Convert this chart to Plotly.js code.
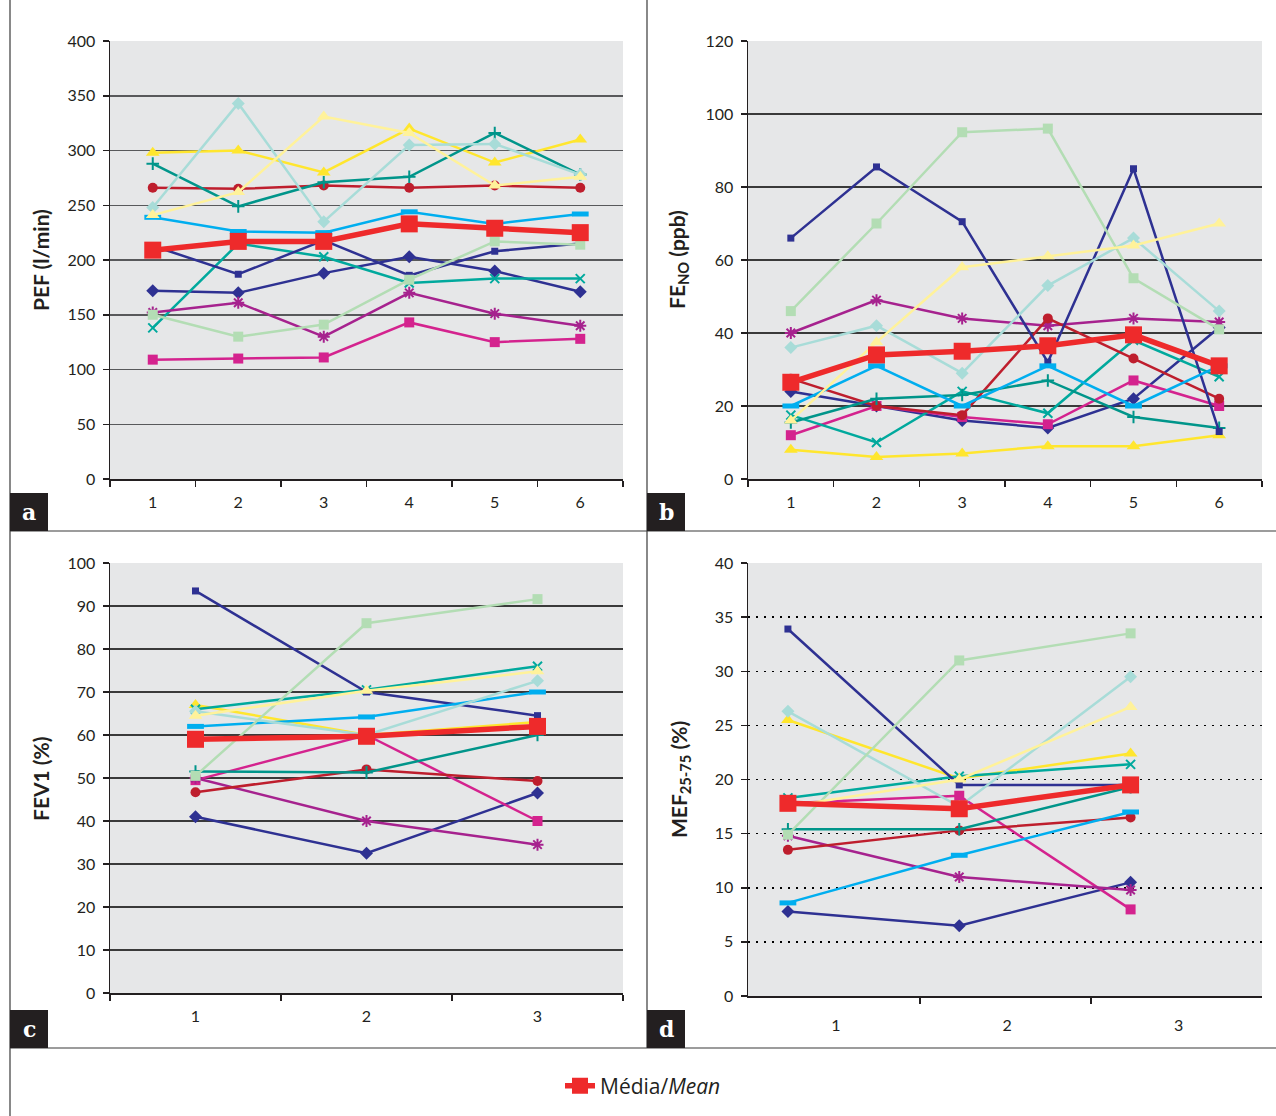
<!DOCTYPE html>
<html><head><meta charset="utf-8">
<script src="https://cdn.plot.ly/plotly-3.0.1.min.js"></script>
<style>html,body{margin:0;padding:0;background:#fff}</style>
</head><body>
<div id="chart" style="width:1276px;height:1116px"></div>
<script>
// ---------- DATA ----------
const catsSix = ['1','2','3','4','5','6'];
const catsThree = ['1','2','3'];
const seriesNames = ['P1','P2','P3','P4','P5','P6','P7','P8','P9','P10','P11','P12'];
const meanName = 'Média/<i>Mean</i>';

// a: PEF (l/min) — one row per series, same order as seriesNames
const pefValues = [
  [172, 170, 188, 203, 190, 171],
  [109, 110, 111, 143, 125, 128],
  [298, 300, 280, 320, 289, 310],
  [138, 215, 203, 179, 183, 183],
  [152, 161, 130, 170, 151, 140],
  [266, 265, 268, 266, 268, 266],
  [288, 249, 271, 276, 316, 278],
  [213, 187, 218, 186, 208, 215],
  [239, 226, 225, 244, 233, 242],
  [248, 343, 235, 305, 306, 278],
  [150, 130, 141, 182, 217, 214],
  [241, 262, 331, 316, 268, 276]
];
const pefMean = [209, 217, 217, 233, 229, 225];

// b: FENO (ppb)
const fenoValues = [
  [24, 20, 16, 14, 22, 41.5],
  [12, 20, 17, 15, 27, 20],
  [8, 6, 7, 9, 9, 12],
  [17.5, 10, 24, 18, 38, 28],
  [40, 49, 44, 42, 44, 43],
  [27.5, 20, 17.5, 44, 33, 22],
  [15.5, 22, 23, 27, 17, 14],
  [66, 85.5, 70.5, 32, 85, 13],
  [20, 31, 20, 31, 20, 31],
  [36, 42, 29, 53, 66, 46],
  [46, 70, 95, 96, 55, 41],
  [16, 37.5, 58, 61, 64, 70]
];
const fenoMean = [26.5, 34, 35, 36.5, 39.5, 31];

// c: FEV1 (%)
const fevValues = [
  [41, 32.5, 46.5],
  [49.5, 60, 40],
  [67, 60, 63],
  [66, 70.5, 76],
  [50, 40, 34.5],
  [46.7, 52, 49.3],
  [51.5, 51.3, 60],
  [93.5, 70, 64.5],
  [62, 64.2, 70],
  [65.5, 60, 72.6],
  [50.5, 86, 91.6],
  [64.5, 70.3, 74.8]
];
const fevMean = [59, 59.7, 62];

// d: MEF25-75 (%)
const mefValues = [
  [7.8, 6.5, 10.5],
  [17.8, 18.5, 8],
  [25.5, 20.1, 22.4],
  [18.3, 20.3, 21.4],
  [14.8, 11, 9.8],
  [13.5, 15.3, 16.5],
  [15.4, 15.4, 19.3],
  [33.9, 19.5, 19.5],
  [8.6, 13, 17],
  [26.3, 17.5, 29.5],
  [14.9, 31, 33.5],
  [17.5, 20, 26.7]
];
const mefMean = [17.8, 17.3, 19.5];
const mefX = [1, 2, 3];

// ---------- STYLES ----------
const colors  = ['#2E3192','#D4238E','#FFE62E','#00A99D','#A6228E','#BE1E2D','#00958A','#2E3192','#00AEEF','#A8DCD8','#B3DDB4','#FFF29A'];
const symbols = ['diamond','square','triangle-up','x-thin-open','asterisk-open','circle','cross-thin-open','square','line-ew-open','diamond','square','triangle-up'];
const msizes  = [10, 10, 12, 9, 10, 10, 9, 7, 12, 10, 10, 12];
const mlines  = [0, 0, 0, 2, 2, 0, 2, 0, 5, 0, 0, 0];
const meanColor = '#EE2A2B';

const W = 1276, H = 1116;
const px = x => x / W;
const py = y => 1 - y / H;

const traces = [];
function addPanel(values, mean, cats, xa, ya, legend) {
  values.forEach((vals, i) => {
    traces.push({
      type: 'scatter', mode: 'lines+markers', x: cats, y: vals,
      xaxis: xa, yaxis: ya, name: seriesNames[i], showlegend: false,
      line: {color: colors[i], width: 2.5},
      marker: {symbol: symbols[i], size: msizes[i], color: colors[i],
               line: {color: colors[i], width: mlines[i]}},
      cliponaxis: false
    });
  });
  traces.push({
    type: 'scatter', mode: 'lines+markers', x: cats, y: mean,
    xaxis: xa, yaxis: ya, name: meanName, showlegend: legend, legendgroup: 'mean',
    line: {color: meanColor, width: 5.5},
    marker: {symbol: 'square', size: 17, color: meanColor, line: {width: 0}},
    cliponaxis: false
  });
}
addPanel(pefValues, pefMean, catsSix, 'x', 'y', true);
addPanel(fenoValues, fenoMean, catsSix, 'x2', 'y2', false);
addPanel(fevValues, fevMean, catsThree, 'x3', 'y3', false);
addPanel(mefValues, mefMean, mefX, 'x4', 'y4', false);

const dark = '#231F20';
const tickFont = {family: 'Lato, "Open Sans", sans-serif', size: 16, color: dark};
const baseAx = {showline: true, linecolor: dark, linewidth: 1.5, ticks: 'outside', ticklen: 6,
  tickcolor: dark, tickwidth: 1.5, tickfont: tickFont, zeroline: false, fixedrange: true};
const catX = (dom, anchor, n) => Object.assign({}, baseAx, {domain: dom, anchor: anchor, type: 'category',
  range: [-0.5, n - 0.5], tickson: 'boundaries', showgrid: false, ticklabelstandoff: 8});
const valY = (dom, anchor, range, dtick, grid) => Object.assign({}, baseAx, {domain: dom, anchor: anchor,
  range: range, dtick: dtick, showgrid: true, gridcolor: grid.color, gridwidth: grid.width,
  griddash: grid.dash || 'solid', ticklabelstandoff: 4});

const topY = [py(479), py(41)];
const botYc = [py(993), py(563)];
const botYd = [py(996), py(563)];
const leftX = [px(110), px(623)];
const rightX = [px(748), px(1262)];

const layout = {
  width: W, height: H, margin: {l: 0, r: 0, t: 0, b: 0},
  paper_bgcolor: '#ffffff', plot_bgcolor: '#E6E7E8',
  font: {family: 'Lato, "Open Sans", sans-serif', color: dark},
  xaxis: catX(leftX, 'y', 6),
  yaxis: valY(topY, 'x', [0, 400], 50, {color: '#58595B', width: 1.5}),
  xaxis2: catX(rightX, 'y2', 6),
  yaxis2: valY(topY, 'x2', [0, 120], 20, {color: '#3A3A3A', width: 1.5}),
  xaxis3: catX(leftX, 'y3', 3),
  yaxis3: valY(botYc, 'x3', [0, 100], 10, {color: '#3A3A3A', width: 1.5}),
  xaxis4: Object.assign({}, baseAx, {domain: rightX, anchor: 'y4', type: 'linear',
    range: [0.767, 3.767], tickvals: mefX, ticktext: catsThree, ticks: '',
    ticklabelshift: 48, ticklabelstandoff: 14, showgrid: false,
    minor: {tickvals: [1.77, 2.77], ticks: 'outside', ticklen: 6, tickcolor: dark, tickwidth: 1.5, showgrid: false}}),
  yaxis4: valY(botYd, 'x4', [0, 40], 5, {color: '#000000', width: 1.5, dash: '1.5px,6.5px'}),
  showlegend: true,
  legend: {x: px(560), y: py(1086), xanchor: 'left', yanchor: 'middle', orientation: 'h',
    font: {family: '"Open Sans", sans-serif', size: 21, color: dark}, bgcolor: 'rgba(0,0,0,0)'},
  shapes: [],
  annotations: []
};

// panel frame lines
const lineSeg = (x0, y0, x1, y1) => ({type: 'line', xref: 'paper', yref: 'paper',
  x0: px(x0), y0: py(y0), x1: px(x1), y1: py(y1), line: {color: '#3A3A3A', width: 1.2}, layer: 'above'});
layout.shapes.push(lineSeg(10, 0, 10, 1116));
layout.shapes.push(lineSeg(647, 0, 647, 1048));
layout.shapes.push(lineSeg(10, 531, 1276, 531));
layout.shapes.push(lineSeg(10, 1048, 1276, 1048));

// panel letter boxes
const letters = [['a', 10, 493], ['b', 647, 493], ['c', 10, 1010], ['d', 647, 1010]];
letters.forEach(([t, x, y]) => {
  layout.shapes.push({type: 'rect', xref: 'paper', yref: 'paper', x0: px(x), x1: px(x + 38),
    y0: py(y + 38), y1: py(y), fillcolor: dark, line: {width: 0}, layer: 'above'});
  layout.annotations.push({text: '<b>' + t + '</b>', xref: 'paper', yref: 'paper',
    x: px(x + 19), y: py(y + 19), showarrow: false, xanchor: 'center', yanchor: 'middle',
    font: {family: '"DejaVu Serif", serif', size: 22, color: '#ffffff'}});
});

// axis titles
const titles = [
  ['<b>PEF (l/min)</b>', 40, 260],
  ['<b>FE<sub>NO</sub> (ppb)</b>', 678, 260],
  ['<b>FEV1 (%)</b>', 40, 778],
  ['<b>MEF<sub>25-75</sub> (%)</b>', 680, 780]
];
titles.forEach(([t, x, y]) => layout.annotations.push({text: t, xref: 'paper', yref: 'paper',
  x: px(x), y: py(y), showarrow: false, textangle: -90, xanchor: 'center', yanchor: 'middle',
  font: {family: 'Lato, "Open Sans", sans-serif', size: 21, color: dark}}));

Plotly.newPlot('chart', traces, layout, {displayModeBar: false, staticPlot: true});
</script>
</body></html>
